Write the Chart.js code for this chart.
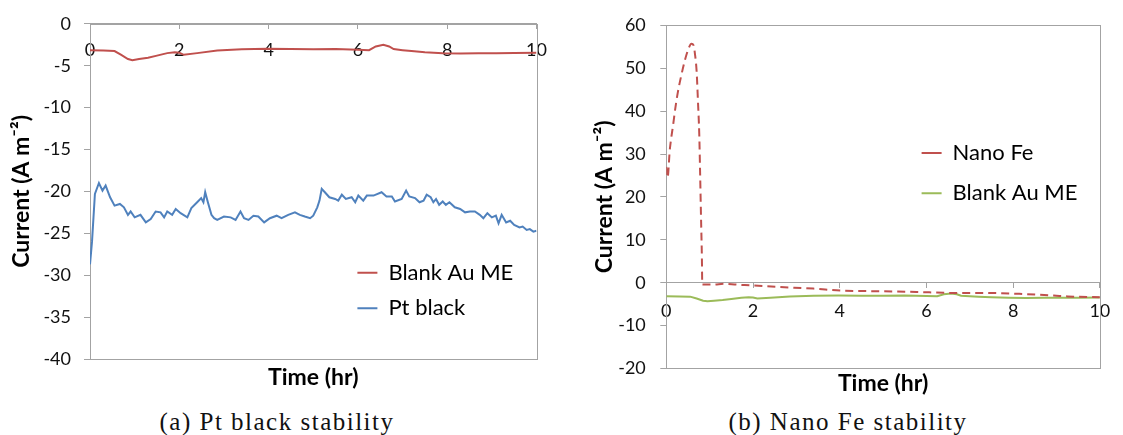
<!DOCTYPE html>
<html>
<head>
<meta charset="utf-8">
<script src="https://cdn.jsdelivr.net/npm/chart.js@4.4.1/dist/chart.umd.min.js"></script>
<style>
  body { margin: 0; background: #fff; }
  #wrap { position: relative; width: 1123px; height: 435px; overflow: hidden; }
  canvas { position: absolute; top: 0; }
  #chart_pt { left: 0; }
  #chart_fe { left: 565px; }
  .caption { position: absolute; top: 409px; font-family: "Liberation Serif", serif; font-size: 25px;
             letter-spacing: 1.5px; line-height: 1; white-space: nowrap; transform: translateX(-50%); color: #111; }
</style>
</head>
<body>
<div id="wrap">
  <canvas id="chart_pt" width="565" height="400"></canvas>
  <canvas id="chart_fe" width="558" height="400"></canvas>
  <div class="caption" style="left:277px">(a) Pt black stability</div>
  <div class="caption" style="left:848px">(b) Nano Fe stability</div>
</div>
<script>
// Blank Au ME - same record in both panels
const blankTime = [0, 0.3, 0.55, 0.7, 0.85, 0.95, 1.1, 1.3, 1.5, 1.73, 1.9, 2.0, 2.1, 2.4, 2.85, 3.4, 3.97, 4.5,
  5.0, 5.5, 6.0, 6.25, 6.4, 6.57, 6.7, 6.8, 7.0, 7.2, 7.5, 7.9, 8.3, 8.7, 9.1, 9.5, 10];
const blankCurrent = [-3.15, -3.2, -3.25, -3.7, -4.2, -4.35, -4.2, -4.05, -3.8, -3.5, -3.4, -3.45, -3.7, -3.5, -3.2,
  -3.05, -2.98, -3.02, -3.05, -3.0, -3.1, -3.15, -2.7, -2.5, -2.7, -3.02, -3.15, -3.26, -3.4, -3.5, -3.55, -3.5,
  -3.5, -3.48, -3.46];

// Pt black
const ptTime = [0, 0.045, 0.11, 0.2, 0.28, 0.35, 0.45, 0.55, 0.67, 0.76,
  0.85, 0.91, 1.0, 1.13, 1.25, 1.36, 1.47, 1.58, 1.66, 1.73,
  1.84, 1.92, 2.03, 2.18, 2.27, 2.4, 2.49, 2.54, 2.58, 2.64,
  2.72, 2.78, 2.85, 3.0, 3.15, 3.26, 3.37, 3.45, 3.55, 3.66,
  3.77, 3.9, 4.03, 4.18, 4.29, 4.44, 4.59, 4.7, 4.81, 4.93,
  5.0, 5.09, 5.14, 5.19, 5.26, 5.36, 5.49, 5.56, 5.64, 5.73,
  5.86, 5.94, 6.01, 6.12, 6.2, 6.35, 6.53, 6.64, 6.76, 6.83,
  6.98, 7.08, 7.15, 7.28, 7.38, 7.47, 7.54, 7.63, 7.69, 7.75,
  7.82, 7.9, 7.97, 8.05, 8.17, 8.29, 8.4, 8.51, 8.62, 8.73,
  8.81, 8.9, 9.0, 9.09, 9.15, 9.22, 9.32, 9.41, 9.5, 9.62,
  9.69, 9.78, 9.85, 9.93, 10];
const ptCurrent = [-28.7, -26.0, -20.3, -19.0, -19.9, -19.3, -20.7, -21.7, -21.5, -21.9,
  -22.8, -22.4, -23.1, -22.8, -23.7, -23.3, -22.4, -22.5, -23.1, -22.4,
  -22.8, -22.1, -22.6, -23.1, -22.0, -21.3, -20.8, -21.3, -20.1, -21.3,
  -22.8, -23.2, -23.4, -23.0, -23.1, -23.4, -22.4, -23.2, -23.4, -22.9,
  -23.0, -23.7, -23.2, -22.9, -23.2, -22.8, -22.5, -22.8, -23.0, -23.2,
  -22.9, -21.9, -21.1, -19.7, -20.1, -20.7, -20.9, -21.1, -20.4, -20.9,
  -20.7, -21.3, -20.5, -21.1, -20.5, -20.5, -20.1, -20.6, -20.6, -21.2,
  -20.9, -19.9, -20.6, -20.8, -21.3, -21.1, -20.4, -20.7, -21.3, -20.9,
  -21.6, -21.2, -21.6, -21.3, -21.9, -22.1, -22.5, -22.4, -22.4, -22.8,
  -23.2, -22.6, -23.1, -22.9, -23.8, -22.8, -23.7, -23.5, -24.0, -24.3,
  -24.2, -24.6, -24.5, -24.8, -24.7];

// Nano Fe
const feTime = [0, 0.03, 0.08, 0.16, 0.21, 0.27, 0.35, 0.42, 0.5, 0.58, 0.63, 0.66, 0.7, 0.73, 0.76, 0.78, 0.8,
  0.82, 0.83, 1.1, 1.32, 1.62, 1.96, 2.59, 3.39, 4.02, 4.97, 5.77, 6.56, 7.35, 8.14, 8.94, 9.26, 10];
const feCurrent = [27, 24.5, 30.9, 37.0, 40.8, 44.6, 48.5, 51.5, 54.2, 55.7, 55.3, 53.4, 49.2, 42.3, 34.7, 25.5, 15.6,
  6.4, -0.4, -0.45, -0.25, -0.45, -0.62, -1.0, -1.38, -1.84, -2.0, -2.15, -2.38, -2.38, -2.6, -3.0, -3.2, -3.37];

const timeTicks = [0, 2, 4, 6, 8, 10];
const ptCurrentTicks = [-40, -35, -30, -25, -20, -15, -10, -5, 0];
const feCurrentTicks = [-20, -10, 0, 10, 20, 30, 40, 50, 60];

const axisGray = '#a3a3a3';
Chart.defaults.font.family = 'Lato';
Chart.defaults.color = '#111';

const pts = (xs, ys) => xs.map((x, i) => ({x: x, y: ys[i]}));
const fixTicks = list => s => { s.ticks = list.map(v => ({value: v})); };

// рамка области построения
const plotBox = {
  id: 'plotBox',
  beforeDatasetsDraw(chart) {
    const {ctx, chartArea: a} = chart;
    ctx.save();
    ctx.strokeStyle = axisGray;
    ctx.lineWidth = 1;
    ctx.strokeRect(Math.round(a.left) + 0.5, Math.round(a.top) + 0.5,
      Math.round(a.right - a.left), Math.round(a.bottom - a.top));
    ctx.restore();
  }
};

// легенда внутри графика, в заданной точке
const legendSpot = {
  id: 'legendSpot',
  afterLayout(chart, args, opts) {
    const lg = chart.legend;
    if (!lg) return;
    const w = lg.width, h = lg.height;
    lg.left = opts.x; lg.top = opts.y;
    lg.right = opts.x + w; lg.bottom = opts.y + h;
  }
};

function timeAxis(pad) {
  return {
    type: 'linear', min: 0, max: 10, position: {y: 0},
    afterBuildTicks: fixTicks(timeTicks),
    afterFit: s => { s.height = 0; },
    ticks: {font: {size: 18}, padding: pad, maxRotation: 0, autoSkip: false},
    grid: {drawOnChartArea: false, tickLength: 5, color: axisGray},
    border: {color: axisGray}
  };
}
function timeTitle(padTop) {
  return {
    type: 'linear', axis: 'x', position: 'bottom', min: 0, max: 10,
    ticks: {display: false},
    grid: {display: false, drawTicks: false},
    border: {display: false},
    title: {display: true, text: 'Time (hr)', color: '#000',
      font: {size: 23, weight: 'bold'}, padding: {top: padTop, bottom: 0}}
  };
}
function currentAxis(min, max, list, width, titlePad, labelPad) {
  return {
    type: 'linear', min: min, max: max, position: 'left',
    afterBuildTicks: fixTicks(list),
    afterFit: s => { s.width = width; },
    ticks: {font: {size: 18}, padding: labelPad},
    grid: {drawOnChartArea: false, tickLength: 6, color: axisGray},
    border: {color: axisGray},
    title: {display: true, text: 'Current (A m⁻²)', color: '#000',
      font: {size: 23, weight: 'bold'}, padding: {top: titlePad, bottom: 0}}
  };
}
function legendOpts(pad) {
  return {
    position: 'chartArea', align: 'start',
    labels: {usePointStyle: true, pointStyle: 'line', pointStyleWidth: 20,
      font: {size: 22}, color: '#000', padding: pad}
  };
}

new Chart(document.getElementById('chart_pt'), {
  type: 'line',
  data: {
    datasets: [
      {label: 'Blank Au ME', data: pts(blankTime, blankCurrent), borderColor: '#C0504D', borderWidth: 2},
      {label: 'Pt black', data: pts(ptTime, ptCurrent), borderColor: '#4F81BD', borderWidth: 2}
    ]
  },
  options: {
    responsive: false, animation: false,
    elements: {point: {radius: 0}, line: {tension: 0}},
    layout: {padding: {left: 0, right: 28.5, top: 19.7, bottom: 8.4}},
    scales: {
      x: timeAxis(11),
      xTitle: timeTitle(5),
      y: currentAxis(-40, 0, ptCurrentTicks, 90, 8, 13)
    },
    plugins: {
      legend: legendOpts(13.6),
      legendSpot: {x: 343.8, y: 248.1},
      tooltip: {enabled: false}
    }
  },
  plugins: [plotBox, legendSpot]
});

new Chart(document.getElementById('chart_fe'), {
  type: 'line',
  data: {
    datasets: [
      {label: 'Nano Fe', data: pts(feTime, feCurrent), borderColor: '#C0504D', borderWidth: 2,
        borderDash: [8, 5], cubicInterpolationMode: 'monotone'},
      {label: 'Blank Au ME', data: pts(blankTime, blankCurrent), borderColor: '#9BBB59', borderWidth: 2}
    ]
  },
  options: {
    responsive: false, animation: false,
    elements: {point: {radius: 0}, line: {tension: 0}},
    layout: {padding: {left: 0, right: 12, top: 19.7, bottom: 2.9}},
    scales: {
      x: timeAxis(12.7),
      xTitle: timeTitle(1),
      y: currentAxis(-20, 60, feCurrentTicks, 101.3, 25.6, 14.5)
    },
    plugins: {
      legend: legendOpts(18.3),
      legendSpot: {x: 338.3, y: 123.7},
      tooltip: {enabled: false}
    }
  },
  plugins: [plotBox, legendSpot]
});
</script>
</body>
</html>
